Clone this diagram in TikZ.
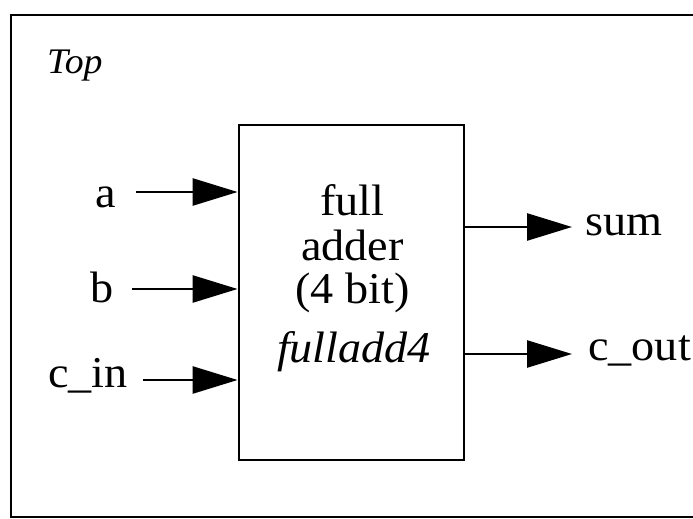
\documentclass[tikz,border=0pt]{standalone}
\usepackage{fontspec}
\setmainfont{Liberation Serif}[FakeStretch=1.05]
\usetikzlibrary{arrows.meta}
\tikzset{
  frame/.style={draw=black, line width=2.8pt},
  blockbox/.style={draw=black, line width=2.8pt, minimum width=225pt, minimum height=335pt, inner sep=0pt},
  lbl/.style={font=\fontsize{44}{44}\selectfont, inner sep=0pt},
  intext/.style={font=\fontsize{44}{44}\selectfont, inner sep=0pt, anchor=base},
  sig/.style={line width=2.6pt, -{Triangle[length=45pt, width=27pt]}, shorten >=0pt},
}
\begin{document}
\begin{tikzpicture}[x=1pt, y=-1pt]
\clip (0,0) rectangle (693,519);
\fill[white] (0,0) rectangle (693,519);
% outer frame (right side cut off)
\draw[frame] (700,15) -- (11,15) -- (11,517) -- (700,517);
\node[font=\fontsize{36}{36}\selectfont\itshape, anchor=base west, inner sep=0pt] (toplbl) at (47,74) {Top};
% block
\node[blockbox] (fa) at (351.5,292.5) {};
\node[intext] (t1) at (352.5,215) {full};
\node[intext] (t2) at (352.5,260) {adder};
\node[intext] (t3) at (352.5,303) {(4 bit)};
\node[intext, font=\fontsize{44}{44}\selectfont\itshape] (t4) at (354,362) {fulladd4};
% inputs
\node[lbl, anchor=base east] (a) at (116,207) {a};
\node[lbl, anchor=base east] (b) at (114,302) {b};
\node[lbl, anchor=base east] (cin) at (128,387) {c\_in};
\coordinate (ain) at (136,192);
\coordinate (bin) at (132,289);
\coordinate (cinp) at (143,380);
\draw[sig] (ain) -- (ain -| fa.west);
\draw[sig] (bin) -- (bin -| fa.west);
\draw[sig] (cinp) -- (cinp -| fa.west);
% outputs
\node[lbl, anchor=base west] (sum) at (585,235) {sum};
\node[lbl, anchor=base west] (cout) at (588,360) {c\_out};
\coordinate (sumtip) at (572,227);
\coordinate (couttip) at (572,354);
\draw[sig] (sumtip -| fa.east) -- (sumtip);
\draw[sig] (couttip -| fa.east) -- (couttip);
\end{tikzpicture}
\end{document}
